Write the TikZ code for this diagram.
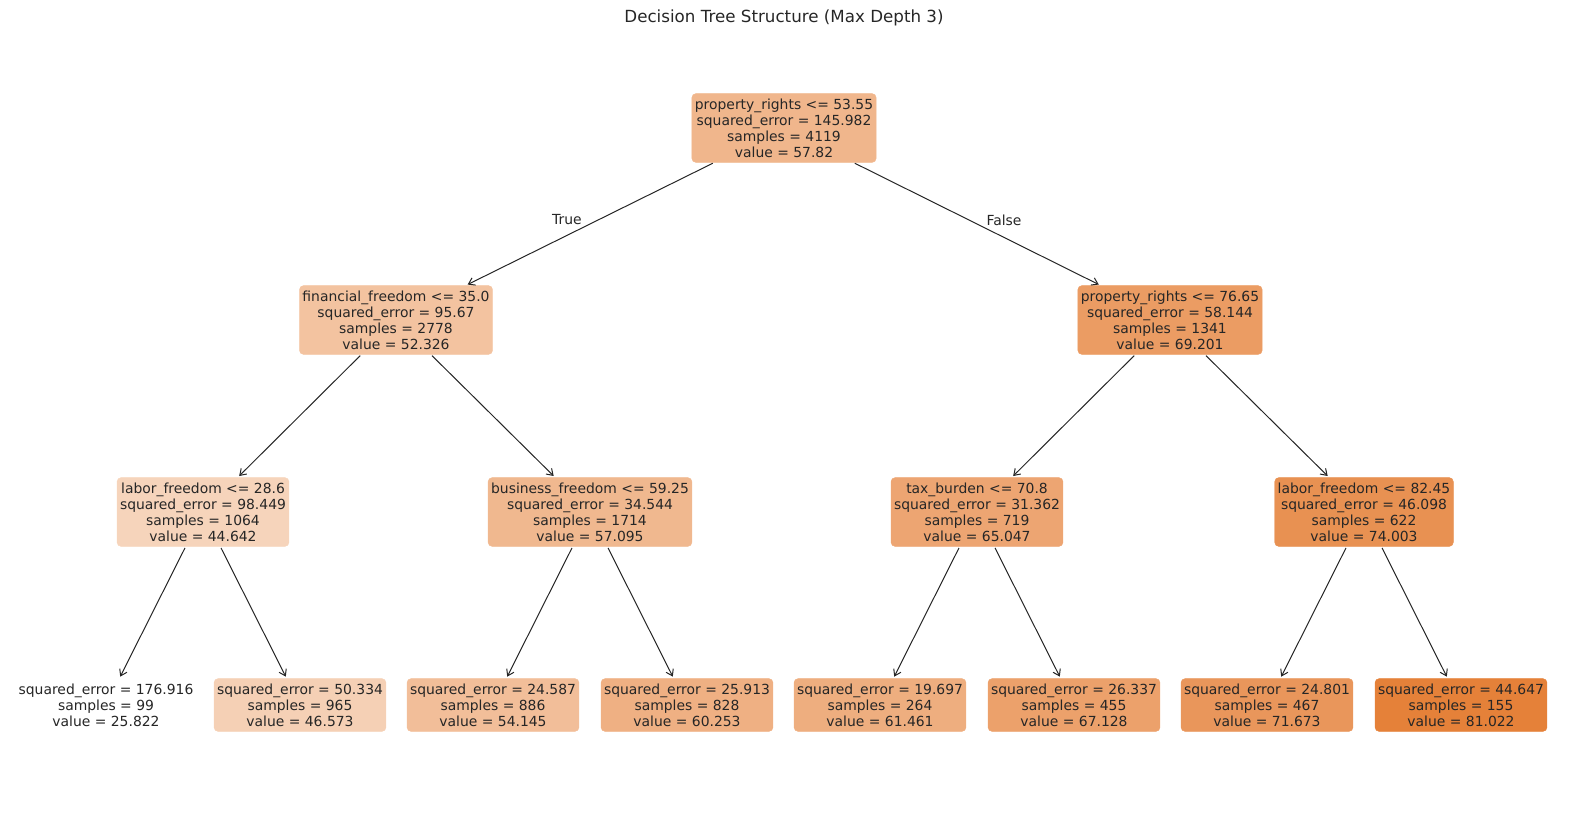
\documentclass[tikz,border=0pt]{standalone}
\usepackage{fontspec}
\setmainfont{DejaVu Sans}
\usetikzlibrary{arrows.meta}
\definecolor{orng}{RGB}{229,129,57}
\definecolor{txt}{RGB}{38,38,38}
\definecolor{edgec}{RGB}{38,38,38}
\tikzset{
  tbox/.style={rounded corners=4pt, inner xsep=3pt, inner ysep=5pt, align=center,
    font=\fontsize{13.9}{16}\selectfont, text=txt},
  tfill/.style={tbox, fill=orng!#1!white, draw=orng!#1!white},
  conn/.style={draw=edgec, line width=1pt, -{Straight Barb[length=6pt,width=8pt]}, shorten <=1.5pt, shorten >=2pt},
  elabel/.style={font=\fontsize{13.9}{16}\selectfont, text=txt}
}
\begin{document}
\begin{tikzpicture}[x=1pt,y=-1pt]
\useasboundingbox (0,0) rectangle (1570,812);
\node[font=\fontsize{16.7}{19}\selectfont, text=txt] (title) at (784,18) {Decision Tree Structure (Max Depth 3)};
% level 0
\node[tfill=57.97] (n0) at (784,128) {property\_rights <= 53.55\\squared\_error = 145.982\\samples = 4119\\value = 57.82};
% level 1
\node[tfill=48.01] (n1) at (396,320) {financial\_freedom <= 35.0\\squared\_error = 95.67\\samples = 2778\\value = 52.326};
\node[tfill=78.58] (n8) at (1170,320) {property\_rights <= 76.65\\squared\_error = 58.144\\samples = 1341\\value = 69.201};
% level 2
\node[tfill=34.09] (n2) at (203,512) {labor\_freedom <= 28.6\\squared\_error = 98.449\\samples = 1064\\value = 44.642};
\node[tfill=56.65] (n5) at (590,512) {business\_freedom <= 59.25\\squared\_error = 34.544\\samples = 1714\\value = 57.095};
\node[tfill=71.06] (n9) at (977,512) {tax\_burden <= 70.8\\squared\_error = 31.362\\samples = 719\\value = 65.047};
\node[tfill=87.28] (n12) at (1364,512) {labor\_freedom <= 82.45\\squared\_error = 46.098\\samples = 622\\value = 74.003};
% leaves
\node[tfill=0] (n3) at (106,705) {squared\_error = 176.916\\samples = 99\\value = 25.822};
\node[tfill=37.59] (n4) at (300,705) {squared\_error = 50.334\\samples = 965\\value = 46.573};
\node[tfill=51.31] (n6) at (493,705) {squared\_error = 24.587\\samples = 886\\value = 54.145};
\node[tfill=62.38] (n7) at (687,705) {squared\_error = 25.913\\samples = 828\\value = 60.253};
\node[tfill=64.56] (n10) at (880,705) {squared\_error = 19.697\\samples = 264\\value = 61.461};
\node[tfill=74.83] (n11) at (1074,705) {squared\_error = 26.337\\samples = 455\\value = 67.128};
\node[tfill=83.06] (n13) at (1267,705) {squared\_error = 24.801\\samples = 467\\value = 71.673};
\node[tfill=100] (n14) at (1461,705) {squared\_error = 44.647\\samples = 155\\value = 81.022};
% connectors
\draw[conn] (n0) -- (n1);
\draw[conn] (n0) -- (n8);
\draw[conn] (n1) -- (n2);
\draw[conn] (n1) -- (n5);
\draw[conn] (n8) -- (n9);
\draw[conn] (n8) -- (n12);
\draw[conn] (n2) -- (n3);
\draw[conn] (n2) -- (n4);
\draw[conn] (n5) -- (n6);
\draw[conn] (n5) -- (n7);
\draw[conn] (n9) -- (n10);
\draw[conn] (n9) -- (n11);
\draw[conn] (n12) -- (n13);
\draw[conn] (n12) -- (n14);
\node[elabel] (ltrue) at (567,220) {True};
\node[elabel] (lfalse) at (1004,220) {False};
\end{tikzpicture}
\end{document}
